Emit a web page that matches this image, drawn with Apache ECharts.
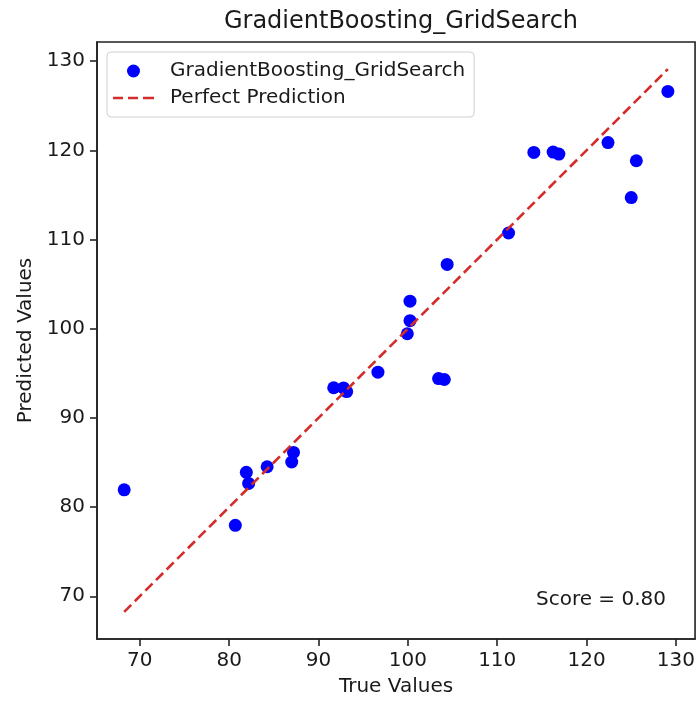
<!DOCTYPE html>
<html>
<head>
<meta charset="utf-8">
<title>GradientBoosting_GridSearch</title>
<script src="https://cdn.jsdelivr.net/npm/echarts@6/dist/echarts.min.js"></script>
<style>
  html, body { margin: 0; padding: 0; background: #fff; }
  #chart { width: 698px; height: 702px; }
</style>
</head>
<body>
<div id="chart"></div>
<script>
// True vs. predicted values for the tuned gradient boosting model
const trueVals = [68.25, 80.69, 81.92, 82.18, 84.25, 87.0, 87.2, 91.7, 92.8, 93.15,
                  96.65, 99.94, 100.24, 100.24, 103.44, 104.08, 104.4, 111.27, 114.1, 116.26,
                  116.9, 122.4, 125.0, 125.57, 129.1];
const predVals = [81.93, 77.95, 83.9, 82.65, 84.52, 85.05, 86.13, 93.38, 93.36, 92.95,
                  95.12, 99.43, 100.9, 103.08, 94.41, 94.3, 107.2, 110.73, 119.76, 119.8,
                  119.58, 120.87, 114.7, 118.83, 126.6];
const tickValues = [70, 80, 90, 100, 110, 120, 130];
const scoreText = 'Score = 0.80';

const points = trueVals.map((t, i) => [t, predVals[i]]);
const lo = Math.min(...trueVals);
const hi = Math.max(...trueVals);
const perfectLine = [[lo, lo], [hi, hi]];

// 5% padding around the plotted range on both axes
const pad = (hi - lo) * 0.05;
const axMin = lo - pad;
const axMax = hi + pad;

const FONT = 'DejaVu Sans';
const TXT = '#1a1a1a';
const RED = '#d42b2b';

// three short dashes used as the legend swatch of the reference line
const DASH_ICON = 'path://M0,0h10v2.6h-10z M15,0h10v2.6h-10z M30,0h11v2.6h-11z';

const chart = echarts.init(document.getElementById('chart'), null, { renderer: 'canvas' });

function valueAxis(name, gap) {
  return {
    type: 'value',
    min: axMin,
    max: axMax,
    name: name,
    nameLocation: 'middle',
    nameGap: gap,
    nameTextStyle: { fontFamily: FONT, fontSize: 20, color: TXT },
    axisLine: { show: true, onZero: false, lineStyle: { color: '#222', width: 1.6 } },
    axisTick: { show: true, length: 7, customValues: tickValues, lineStyle: { color: '#222', width: 1.6 } },
    axisLabel: { customValues: tickValues, margin: 12, fontFamily: FONT, fontSize: 20, color: TXT },
    splitLine: { show: false }
  };
}

chart.setOption({
  animation: false,
  backgroundColor: '#ffffff',
  title: {
    text: 'GradientBoosting_GridSearch',
    left: 396,
    textAlign: 'center',
    top: 5,
    textStyle: { fontFamily: FONT, fontSize: 24, fontWeight: 'normal', color: TXT }
  },
  grid: {
    left: 97, right: 2, top: 42, bottom: 62,
    show: true, borderColor: '#222', borderWidth: 1.6, backgroundColor: 'transparent'
  },
  xAxis: valueAxis('True Values', 38),
  yAxis: valueAxis('Predicted Values', 58),
  legend: {
    orient: 'vertical',
    left: 107,
    top: 52,
    padding: [9, 9, 9, 6],
    itemWidth: 41,
    itemHeight: 13,
    itemGap: 7,
    borderColor: '#d0d0d0',
    borderWidth: 1,
    borderRadius: 4,
    backgroundColor: 'rgba(255,255,255,0.8)',
    textStyle: { fontFamily: FONT, fontSize: 20, color: TXT, lineHeight: 20, padding: [0, 0, 0, 11] },
    data: [
      { name: 'GradientBoosting_GridSearch', icon: 'circle' },
      { name: 'Perfect Prediction', icon: DASH_ICON, itemStyle: { color: RED } }
    ]
  },
  series: [
    {
      name: 'GradientBoosting_GridSearch',
      type: 'scatter',
      data: points,
      symbol: 'circle',
      symbolSize: 13,
      itemStyle: { color: '#0000ff', opacity: 1 },
      z: 2
    },
    {
      name: 'Perfect Prediction',
      type: 'line',
      data: perfectLine,
      symbol: 'none',
      lineStyle: { color: RED, width: 2.6, type: [10, 5] },
      itemStyle: { color: RED },
      z: 3
    }
  ],
  graphic: [
    {
      type: 'text',
      x: 666,
      y: 600,
      style: {
        text: scoreText,
        fontFamily: FONT,
        fontSize: 20,
        fill: TXT,
        align: 'right',
        verticalAlign: 'middle'
      },
      z: 10
    }
  ]
});
</script>
</body>
</html>
